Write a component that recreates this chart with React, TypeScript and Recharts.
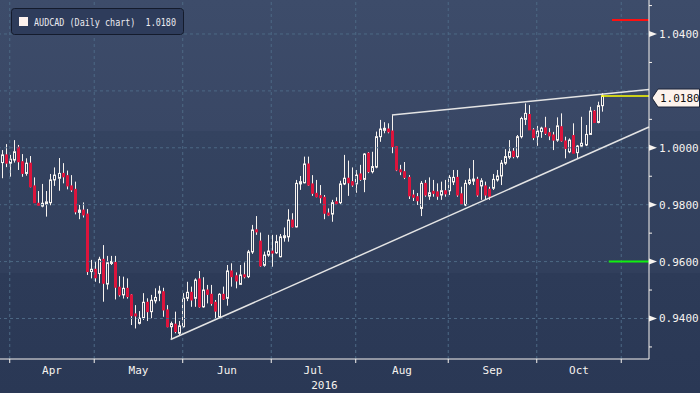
import React from "react";
import { ComposedChart, Bar, XAxis, YAxis, ReferenceLine, Label } from "recharts";

const symbol = "AUDCAD (Daily chart)";
const lastQuote = "1.0180";
const yearLabel = "2016";
const firstSession = "2016-03-30";
const monthNames = ["Jan", "Feb", "Mar", "Apr", "May", "Jun", "Jul", "Aug", "Sep", "Oct", "Nov", "Dec"];

// daily OHLC, one entry per weekday from 30 Mar 2016
const opens = [
  0.9948, 0.9975, 0.9946, 0.9957, 1.0002, 0.9951, 0.991, 0.9946, 0.9866, 0.9805,
  0.9795, 0.9802, 0.9807, 0.9887, 0.9893, 0.991, 0.9902, 0.9866, 0.9854, 0.9773,
  0.9781, 0.9767, 0.9565, 0.9573, 0.9558, 0.9608, 0.9521, 0.9594, 0.9597, 0.951,
  0.9483, 0.9506, 0.9483, 0.9415, 0.9383, 0.9401, 0.9457, 0.9424, 0.9462, 0.9491,
  0.9494, 0.943, 0.9371, 0.938, 0.9348, 0.9371, 0.9471, 0.9492, 0.9471, 0.9539,
  0.9441, 0.95, 0.9485, 0.9457, 0.9406, 0.9485, 0.9471, 0.9567, 0.955, 0.952,
  0.9553, 0.9547, 0.9634, 0.9711, 0.9672, 0.9587, 0.9623, 0.9636, 0.9631, 0.9617,
  0.9685, 0.9687, 0.9746, 0.9722, 0.9873, 0.9877, 0.9943, 0.9873, 0.984, 0.983,
  0.9826, 0.977, 0.9767, 0.9809, 0.9807, 0.9873, 0.9893, 0.9881, 0.9873, 0.9908,
  0.9889, 0.9981, 0.9916, 0.9932, 1.0039, 1.0064, 1.0066, 1.0059, 1.0004, 0.9922,
  0.9916, 0.9896, 0.9834, 0.9828, 0.9787, 0.9875, 0.983, 0.9845, 0.9845, 0.9834,
  0.9849, 0.9849, 0.988, 0.9896, 0.9838, 0.9799, 0.9875, 0.9884, 0.9889, 0.9866,
  0.9866, 0.9854, 0.9858, 0.9887, 0.9901, 0.9946, 0.9967, 0.9988, 0.9969, 1.0039,
  1.01, 1.0117, 1.0063, 1.0039, 1.0057, 1.007, 1.0053, 1.0045, 1.0027, 1.0074,
  1.0024, 0.9986, 1.0043, 0.9983, 1.0006, 1.001, 1.0047, 1.0129, 1.0089, 1.0148,
];
const highs = [
  0.9992, 1.0013, 0.9975, 1.0027, 1.001, 0.9978, 0.9963, 0.9971, 0.9896, 0.9848,
  0.9873, 0.9848, 0.9908, 0.9931, 0.9964, 0.9946, 0.992, 0.9904, 0.9881, 0.9799,
  0.9808, 0.9785, 0.9606, 0.9602, 0.9617, 0.9658, 0.962, 0.962, 0.962, 0.9549,
  0.9547, 0.9541, 0.9486, 0.9447, 0.9426, 0.9489, 0.9471, 0.9483, 0.9506, 0.9515,
  0.9508, 0.9447, 0.9389, 0.9424, 0.9391, 0.9489, 0.9529, 0.9512, 0.9541, 0.9567,
  0.9545, 0.9518, 0.9518, 0.9465, 0.9489, 0.9512, 0.9588, 0.9594, 0.9562, 0.9588,
  0.9597, 0.9641, 0.9729, 0.976, 0.9702, 0.9635, 0.9694, 0.9694, 0.9694, 0.9697,
  0.972, 0.9784, 0.977, 0.9887, 0.9901, 0.9969, 0.9969, 0.9904, 0.9887, 0.9869,
  0.9834, 0.9787, 0.9817, 0.9826, 0.9884, 0.9975, 0.9955, 0.9931, 0.9922, 0.994,
  0.9981, 0.9985, 0.9986, 1.0057, 1.0098, 1.009, 1.0086, 1.0115, 1.0006, 0.994,
  0.995, 0.9904, 0.9852, 0.9841, 0.9883, 0.9887, 0.9896, 0.9887, 0.9875, 0.9881,
  0.9887, 0.9904, 0.9922, 0.9922, 0.9863, 0.9887, 0.9928, 0.9957, 0.9898, 0.9893,
  0.9881, 0.9863, 0.9908, 0.9922, 0.9957, 0.9995, 1.0027, 0.9999, 1.0045, 1.0109,
  1.0156, 1.015, 1.0069, 1.0077, 1.0074, 1.0109, 1.0069, 1.0056, 1.0107, 1.0121,
  1.0039, 1.0033, 1.0086, 1.001, 1.0109, 1.008, 1.0144, 1.0133, 1.0162, 1.0192,
];
const lows = [
  0.9893, 0.9932, 0.9898, 0.9948, 0.9922, 0.9898, 0.9902, 0.9861, 0.9806, 0.9797,
  0.9791, 0.9758, 0.9798, 0.9866, 0.9849, 0.9875, 0.9854, 0.9845, 0.9766, 0.9749,
  0.9755, 0.9553, 0.9541, 0.9529, 0.9524, 0.9459, 0.9502, 0.9588, 0.9467, 0.9477,
  0.947, 0.947, 0.9377, 0.9365, 0.9379, 0.9395, 0.9391, 0.9401, 0.9453, 0.9461,
  0.9406, 0.9369, 0.9328, 0.9348, 0.9339, 0.9368, 0.9461, 0.9441, 0.9441, 0.9438,
  0.9438, 0.9453, 0.9445, 0.9395, 0.9403, 0.9465, 0.9445, 0.9512, 0.9506, 0.9518,
  0.9541, 0.9542, 0.9627, 0.9694, 0.9582, 0.9582, 0.9617, 0.9582, 0.9627, 0.9615,
  0.967, 0.967, 0.972, 0.972, 0.9852, 0.9875, 0.9866, 0.9831, 0.9826, 0.9805,
  0.9749, 0.976, 0.974, 0.9802, 0.9802, 0.9869, 0.9831, 0.9863, 0.9842, 0.9884,
  0.9844, 0.9911, 0.991, 0.9928, 1.0021, 1.0051, 1.0051, 0.9981, 0.9918, 0.9904,
  0.989, 0.982, 0.9813, 0.9799, 0.976, 0.9828, 0.9817, 0.9828, 0.9817, 0.9817,
  0.9828, 0.9834, 0.9869, 0.9828, 0.9799, 0.9795, 0.9869, 0.9869, 0.9828, 0.9817,
  0.9817, 0.9817, 0.9852, 0.9881, 0.9869, 0.994, 0.996, 0.9963, 0.9963, 1.0033,
  1.008, 1.0063, 1.0027, 1.0007, 1.0035, 1.0045, 1.0027, 0.9992, 1.0021, 1.0021,
  0.9963, 0.9981, 0.9981, 0.9964, 1.0004, 1.0006, 1.0045, 1.0087, 1.0086, 1.0127,
];
const closes = [
  0.9975, 0.9946, 0.996, 0.9986, 0.9951, 0.991, 0.9946, 0.9863, 0.9807, 0.9798,
  0.9805, 0.981, 0.9887, 0.9904, 0.991, 0.9898, 0.9866, 0.9852, 0.9775, 0.9781,
  0.9764, 0.9565, 0.9573, 0.9543, 0.9608, 0.9524, 0.9596, 0.96, 0.951, 0.9483,
  0.9506, 0.9477, 0.941, 0.941, 0.9401, 0.9457, 0.9424, 0.9464, 0.9474, 0.9494,
  0.943, 0.9371, 0.9382, 0.9354, 0.9374, 0.9471, 0.9492, 0.9465, 0.9535, 0.9441,
  0.95, 0.9485, 0.9453, 0.9426, 0.9485, 0.9468, 0.9567, 0.9547, 0.9532, 0.9553,
  0.9547, 0.9634, 0.9711, 0.9705, 0.9585, 0.9623, 0.9637, 0.9631, 0.967, 0.9687,
  0.969, 0.9746, 0.9722, 0.9875, 0.9881, 0.9943, 0.9869, 0.984, 0.9828, 0.9826,
  0.977, 0.9764, 0.9807, 0.9805, 0.9873, 0.9893, 0.9877, 0.9869, 0.9904, 0.9889,
  0.9978, 0.9916, 0.9934, 1.0039, 1.0066, 1.0066, 1.0056, 1.0004, 0.9922, 0.9916,
  0.9896, 0.9831, 0.9826, 0.9814, 0.9875, 0.9834, 0.9842, 0.9842, 0.983, 0.9849,
  0.9838, 0.9896, 0.9896, 0.9834, 0.9802, 0.9875, 0.9887, 0.9889, 0.9834, 0.9884,
  0.9834, 0.983, 0.9889, 0.9901, 0.9946, 0.9969, 0.9986, 0.9969, 1.0039, 1.0103,
  1.0121, 1.0063, 1.0036, 1.0059, 1.0069, 1.0051, 1.0042, 1.0027, 1.0077, 1.0024,
  0.9998, 1.0027, 0.9981, 1.0006, 1.0016, 1.0047, 1.0129, 1.0089, 1.0148, 1.0182,
];

// axis
const xDomain = [0.58, 161.9];
const yDomain = [0.92576, 1.05195];
const majorTicks = [0.94, 0.96, 0.98, 1.0, 1.02, 1.04];
const minorTicks = [0.93, 0.95, 0.97, 0.99, 1.01, 1.03, 1.05];
const hiddenLabel = 1.02;

// drawn studies (session number, price)
const resistance = [{ x: 98, y: 1.0115 }, { x: 161.9, y: 1.0205 }];
const support = [{ x: 43, y: 0.9326 }, { x: 161.9, y: 1.0073 }];
const redLevel = { from: 152.7, to: 161.9, price: 1.0449 };
const greenLevel = { from: 151.9, to: 161.9, price: 0.96 };

const WHITE = "#f7f3ef";
const RED = "#dc143c";
const GRID = "#4d6985";
const FONT = "'DejaVu Sans Mono', monospace";

// weekday calendar, session k = index + 1
const sessions: Date[] = [];
{
  const d = new Date(firstSession + "T00:00:00Z");
  while (sessions.length < 162) {
    const wd = d.getUTCDay();
    if (wd !== 0 && wd !== 6) sessions.push(new Date(d));
    d.setUTCDate(d.getUTCDate() + 1);
  }
}
const monthStarts: number[] = [];
const monthOf: number[] = [];
sessions.forEach((d, i) => {
  if (i > 0 && d.getUTCMonth() !== sessions[i - 1].getUTCMonth()) {
    monthStarts.push(i + 1);
    monthOf.push(d.getUTCMonth());
  }
});
const monthLabels = new Map<number, string>();
for (let j = 0; j + 1 < monthStarts.length; j++) {
  monthLabels.set((monthStarts[j] + monthStarts[j + 1]) / 2, monthNames[monthOf[j]]);
}
const xTicks = [...monthStarts, ...monthLabels.keys()].sort((a, b) => a - b);

const candles = opens.map((o, i) => ({
  k: i + 1,
  open: o,
  high: highs[i],
  low: lows[i],
  close: closes[i],
}));

function Candle(props: any) {
  const { x, y, width, height, payload } = props;
  if (x == null || y == null) return null;
  const { open, close, high, low } = payload;
  const n = Math.round(x + width / 2);
  const cx = n + 0.5;
  const span = high - low || 1e-6;
  const yOf = (v: number) => y + ((high - v) / span) * height;
  const up = close >= open;
  let top = yOf(Math.max(open, close));
  let bot = yOf(Math.min(open, close));
  if (bot - top < 2) {
    const m = (top + bot) / 2;
    top = m - 1;
    bot = m + 1;
  }
  return (
    <g>
      <line x1={cx} x2={cx} y1={y} y2={top} stroke={WHITE} strokeWidth={1} />
      <line x1={cx} x2={cx} y1={bot} y2={y + height} stroke={WHITE} strokeWidth={1} />
      {up ? (
        <rect x={n - 0.5} y={top} width={2} height={bot - top} fill="#33425f" stroke={WHITE} strokeWidth={1} />
      ) : (
        <rect x={n - 1} y={top - 0.5} width={3} height={bot - top + 1} fill={RED} />
      )}
    </g>
  );
}

function XTick(props: any) {
  const { x, y, payload } = props;
  const label = monthLabels.get(payload.value);
  if (label) {
    return (
      <text x={x} y={y + 15} textAnchor="middle" fill={WHITE} fontSize={11} fontFamily={FONT}>
        {label}
      </text>
    );
  }
  return <line x1={x} x2={x} y1={y} y2={y + 4} stroke={WHITE} strokeWidth={1} />;
}

function YTick(props: any) {
  const { x, y, payload } = props;
  const v = Math.round(payload.value * 100) / 100;
  if (minorTicks.includes(v)) {
    return <line x1={x} x2={x + 3} y1={y} y2={y} stroke={WHITE} strokeWidth={1} />;
  }
  if (v === hiddenLabel) return null;
  return (
    <g>
      <polygon points={`${x},${y - 3} ${x + 8},${y} ${x},${y + 3}`} fill={WHITE} />
      <text x={x + 10} y={y + 4} fill={WHITE} fontSize={11} fontFamily={FONT}>
        {v.toFixed(4)}
      </text>
    </g>
  );
}

function QuoteTag(props: any) {
  const vb = props.viewBox;
  if (!vb) return null;
  const left = vb.x + vb.width + 3;
  const cy = vb.y + 2;
  return (
    <g>
      <polygon
        points={`${left},${cy} ${left + 6},${cy - 9} ${699.5},${cy - 9} ${699.5},${cy + 9} ${left + 6},${cy + 9}`}
        fill="#fdf3ec"
        stroke="#1c2438"
        strokeWidth={1}
      />
      <text x={left + 8} y={cy + 4} fill="#111" fontSize={11} fontFamily={FONT}>
        {lastQuote}
      </text>
    </g>
  );
}

function YearLabel(props: any) {
  const vb = props.viewBox;
  if (!vb) return null;
  return (
    <text x={vb.x + vb.width / 2} y={vb.y + 30} textAnchor="middle" fill={WHITE} fontSize={11} fontFamily={FONT}>
      {yearLabel}
    </text>
  );
}

export default function App() {
  const last = candles[candles.length - 1];
  return (
    <div
      style={{
        position: "absolute",
        left: 0,
        top: 0,
        width: 700,
        height: 393,
        overflow: "hidden",
        background:
          "linear-gradient(to bottom, #3d4c6a 0px, #394765 131px, #344360 131px, #313f5c 273px, #2d3b58 273px, #2a3855 393px)",
      }}
    >
      <ComposedChart width={700} height={393} data={candles} margin={{ top: 0, right: 0, bottom: 0, left: 0 }}>
        {majorTicks.map((t) => (
          <ReferenceLine key={`h${t}`} y={t} stroke={GRID} strokeDasharray="3 3" />
        ))}
        {monthStarts.map((s) => (
          <ReferenceLine key={`v${s}`} x={s} stroke={GRID} strokeDasharray="3 3" ifOverflow="visible" />
        ))}
        <XAxis
          type="number"
          dataKey="k"
          domain={xDomain}
          allowDataOverflow
          ticks={xTicks}
          interval={0}
          height={34}
          tickSize={0}
          tickMargin={0}
          tickLine={false}
          axisLine={{ stroke: WHITE }}
          tick={<XTick />}
        >
          <Label content={<YearLabel />} position="insideBottom" />
        </XAxis>
        <YAxis
          type="number"
          orientation="right"
          width={51}
          domain={yDomain}
          allowDataOverflow
          ticks={[...minorTicks, ...majorTicks].sort((a, b) => a - b)}
          interval={0}
          tickSize={0}
          tickMargin={0}
          tickLine={false}
          axisLine={{ stroke: WHITE }}
          tick={<YTick />}
        />
        <ReferenceLine segment={resistance} stroke="#e4e4e4" strokeWidth={1.5} ifOverflow="visible" />
        <ReferenceLine segment={support} stroke="#e4e4e4" strokeWidth={1.5} ifOverflow="visible" />
        <ReferenceLine
          segment={[{ x: redLevel.from, y: redLevel.price }, { x: redLevel.to, y: redLevel.price }]}
          stroke="#ff1010"
          strokeWidth={2}
          ifOverflow="visible"
        />
        <ReferenceLine
          segment={[{ x: greenLevel.from, y: greenLevel.price }, { x: greenLevel.to, y: greenLevel.price }]}
          stroke="#10f010"
          strokeWidth={2}
          ifOverflow="visible"
        />
        <Bar
          dataKey={(d: any) => [d.low, d.high]}
          barSize={3}
          isAnimationActive={false}
          shape={(p: any) => <Candle {...p} />}
        />
        <ReferenceLine
          segment={[{ x: last.k, y: last.close }, { x: xDomain[1], y: last.close }]}
          stroke="#ffff00"
          strokeWidth={1.5}
          ifOverflow="visible"
          label={<QuoteTag />}
        />
      </ComposedChart>
      <svg width={320} height={40} style={{ position: "absolute", left: 0, top: 0 }}>
        <rect x={11.5} y={8.5} width={172} height={26} rx={3} fill="#2e3c5b" stroke="#141b2c" strokeWidth={1} />
        <rect x={19} y={17} width={9} height={9} fill="#fdf2ee" />
        <text
          x={34}
          y={26}
          fill="#ecebf0"
          fontSize={11}
          fontFamily="'DejaVu Sans Mono', monospace"
          textLength={142}
          lengthAdjust="spacingAndGlyphs"
          style={{ whiteSpace: "pre" }}
        >
          {`${symbol}  ${lastQuote}`}
        </text>
      </svg>
    </div>
  );
}
